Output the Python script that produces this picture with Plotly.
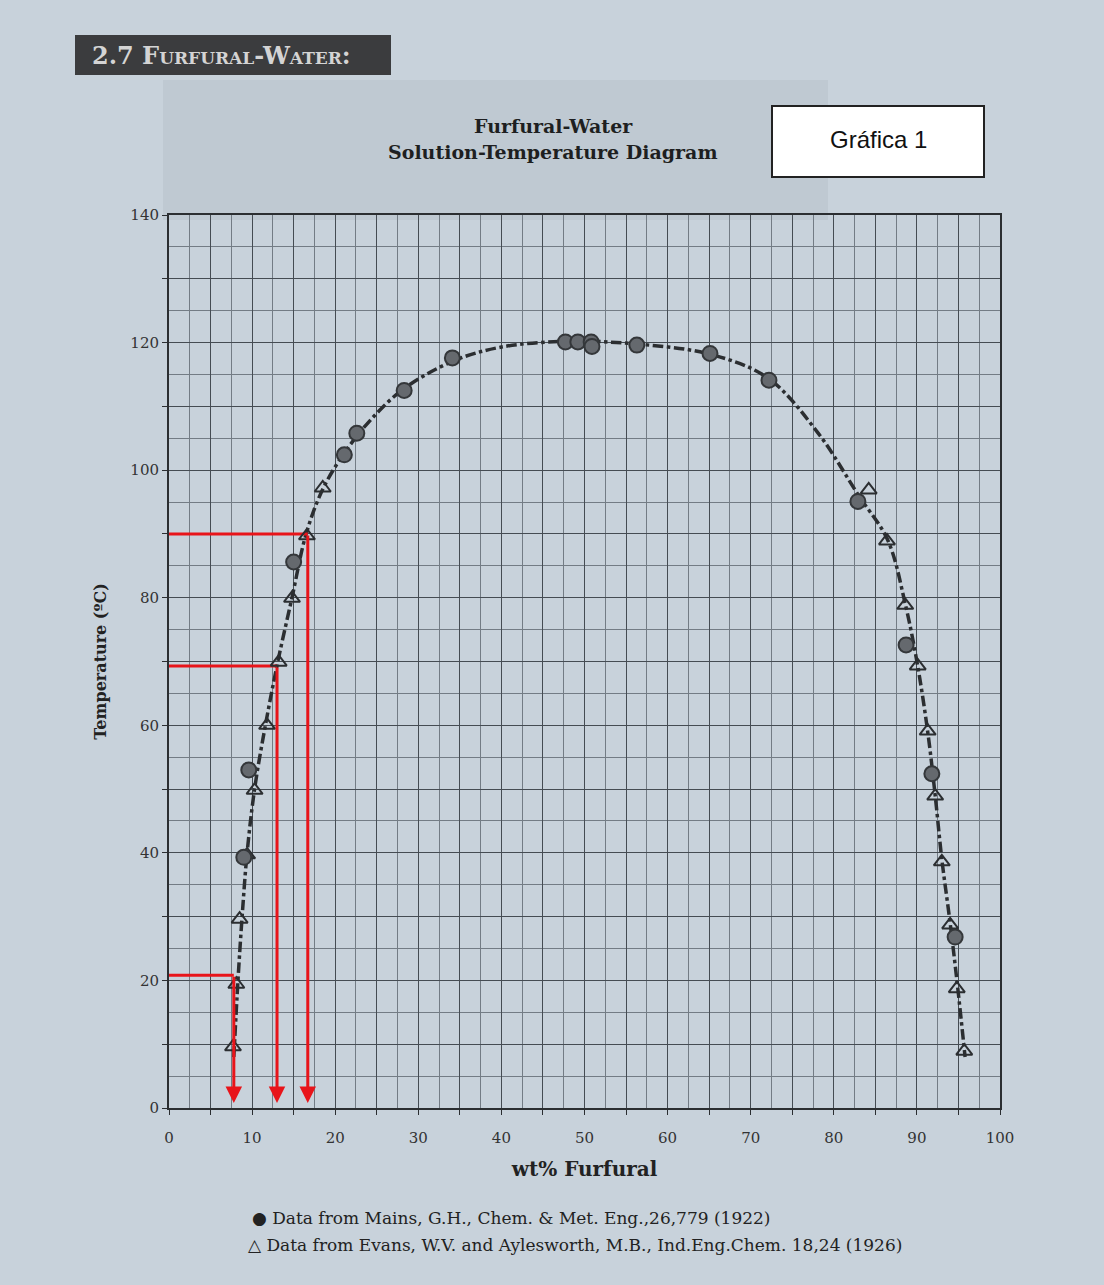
import plotly.graph_objects as go

# ---------------- data ----------------
mains_x = [9.0, 9.6, 15.0, 21.1, 22.6, 28.3, 34.1, 47.7, 49.2, 50.8, 50.9, 56.3, 65.1, 72.2, 82.9, 88.7, 91.8, 94.6]
mains_y = [39.3, 53.0, 85.6, 102.4, 105.8, 112.5, 117.6, 120.1, 120.1, 120.1, 119.4, 119.6, 118.3, 114.1, 95.1, 72.6, 52.4, 26.8]

evans_x = [7.7, 8.1, 8.5, 9.4, 10.3, 11.8, 13.2, 14.8, 16.6, 18.5,
           84.2, 86.4, 88.6, 90.1, 91.3, 92.2, 93.0, 94.0, 94.8, 95.7]
evans_y = [9.6, 19.4, 29.6, 39.7, 49.8, 60.0, 69.9, 79.9, 89.7, 97.2,
           96.9, 88.9, 78.8, 69.3, 59.1, 48.9, 38.6, 28.7, 18.7, 8.9]

curve_x = [7.8, 8.3, 8.8, 9.4, 10.3, 11.6, 13.1, 14.8, 16.5, 18.5, 21.0, 24.0, 28.0, 34.0, 40.0,
           48.0, 56.0, 65.0, 72.0, 78.0, 83.0, 86.5, 88.6, 90.0, 91.3, 92.2, 93.0, 94.0, 94.9, 95.8]
curve_y = [8.0, 20.0, 30.0, 40.0, 50.0, 60.0, 70.0, 80.0, 90.0, 97.0, 102.5, 107.5, 112.5, 117.0, 119.3,
           120.2, 119.8, 118.2, 114.5, 106.0, 96.0, 89.0, 79.0, 70.0, 59.0, 49.0, 39.0, 29.0, 19.0, 8.0]

red_x = [7.8, 13.0, 16.7]
red_y = [20.8, 69.3, 90.0]

x_ticks = list(range(0, 101, 5))
x_labels = [str(v) if v % 10 == 0 else "" for v in x_ticks]
y_ticks = list(range(0, 141, 10))
y_labels = [str(v) if v % 20 == 0 else "" for v in y_ticks]

# ---------------- layout helpers (pixel -> paper) ----------------
L, R, T, B = 169, 1000, 215, 1108
def PX(px):
    return (px - L) / (R - L)
def PY(py):
    return (B - py) / (B - T)

BG = "#c8d2db"
INK = "#2b2e31"
RED = "#e8141a"
SERIF = "DejaVu Serif, Liberation Serif, serif"

fig = go.Figure()

fig.add_trace(go.Scatter(x=curve_x, y=curve_y, mode="lines", line=dict(color=INK, width=3.5, dash="dashdot", shape="spline"),
                         showlegend=False, hoverinfo="skip"))

# red guide lines (horizontal parts)
for xv, yv in zip(red_x, red_y):
    fig.add_trace(go.Scatter(x=[0, xv], y=[yv, yv], mode="lines", line=dict(color=RED, width=3),
                             showlegend=False, hoverinfo="skip"))

fig.add_trace(go.Scatter(x=evans_x, y=evans_y, mode="markers", name="Evans",
                         marker=dict(symbol="triangle-up-open", size=14, color=INK, line=dict(width=2, color=INK)),
                         showlegend=False))
fig.add_trace(go.Scatter(x=mains_x, y=mains_y, mode="markers", name="Mains",
                         marker=dict(symbol="circle", size=15, color="#65696e", line=dict(width=2, color="#34373a")),
                         showlegend=False))

# vertical red arrows
for xv, yv in zip(red_x, red_y):
    fig.add_annotation(x=xv, y=0.8, ax=xv, ay=yv, xref="x", yref="y", axref="x", ayref="y",
                       text="", showarrow=True, arrowhead=2, arrowsize=1.1, arrowwidth=3, arrowcolor=RED)

shapes = []
# faint ghost rectangle behind the title
shapes.append(dict(type="rect", xref="paper", yref="paper", x0=PX(163), x1=PX(828), y0=PY(220), y1=PY(80),
                   fillcolor="#bfc9d2", line=dict(width=0), layer="below"))
# header box
shapes.append(dict(type="rect", xref="paper", yref="paper", x0=PX(75), x1=PX(391), y0=PY(75), y1=PY(35),
                   fillcolor="#3b3c3e", line=dict(width=0)))
# Gráfica 1 box
shapes.append(dict(type="rect", xref="paper", yref="paper", x0=PX(772), x1=PX(984), y0=PY(177), y1=PY(106),
                   fillcolor="white", line=dict(width=2, color="#222")))
fig.update_layout(shapes=shapes)

ann = [
    dict(text="2.7 Furfural-Water:", x=PX(90), y=PY(55), xanchor="left", yanchor="middle",
         font=dict(family=SERIF, size=24, color="#d4d4d4", weight="bold", variant="small-caps")),
    dict(text="Furfural-Water", x=PX(553), y=PY(126), xanchor="center", yanchor="middle",
         font=dict(family=SERIF, size=19, color="#1e1f21", weight="bold")),
    dict(text="Solution-Temperature Diagram", x=PX(553), y=PY(152), xanchor="center", yanchor="middle",
         font=dict(family=SERIF, size=19, color="#1e1f21", weight="bold")),
    dict(text="Gráfica 1", x=PX(878), y=PY(139), xanchor="center", yanchor="middle",
         font=dict(family="Liberation Sans, Arial, sans-serif", size=24, color="#111")),
    dict(text="● Data from Mains, G.H., Chem. & Met. Eng.,26,779 (1922)", x=PX(250), y=PY(1218), xanchor="left", yanchor="middle",
         font=dict(family=SERIF, size=17, color="#222")),
    dict(text="△ Data from Evans, W.V. and Aylesworth, M.B., Ind.Eng.Chem. 18,24 (1926)", x=PX(246), y=PY(1245), xanchor="left", yanchor="middle",
         font=dict(family=SERIF, size=17, color="#222")),
]
for a in ann:
    a.update(xref="paper", yref="paper", showarrow=False)
    fig.add_annotation(**a)

fig.update_layout(
    width=1104, height=1285,
    margin=dict(l=L, r=1104 - R, t=T, b=1285 - B),
    paper_bgcolor=BG, plot_bgcolor=BG,
    showlegend=False,
    xaxis=dict(range=[0, 100], tickvals=x_ticks, ticktext=x_labels, showgrid=True, gridcolor="#454c53", gridwidth=1.3,
               minor=dict(dtick=2.5, showgrid=True, gridcolor="#737c85", gridwidth=1),
               showline=True, linecolor=INK, linewidth=2, mirror=True, zeroline=False,
               ticks="outside", ticklen=5, tickcolor=INK, ticklabelstandoff=10,
               tickfont=dict(family=SERIF, size=15, color="#333"),
               title=dict(text="wt% Furfural", font=dict(family=SERIF, size=20, color="#222", weight="bold"), standoff=16)),
    yaxis=dict(range=[0, 140], tickvals=y_ticks, ticktext=y_labels, showgrid=True, gridcolor="#454c53", gridwidth=1.3,
               minor=dict(dtick=5, showgrid=True, gridcolor="#737c85", gridwidth=1),
               showline=True, linecolor=INK, linewidth=2, mirror=True, zeroline=False,
               ticks="outside", ticklen=5, tickcolor=INK,
               tickfont=dict(family=SERIF, size=15, color="#333"),
               title=dict(text="Temperature (ºC)", font=dict(family=SERIF, size=16, color="#222", weight="bold"), standoff=20)),
)

fig.write_html("out.html")
